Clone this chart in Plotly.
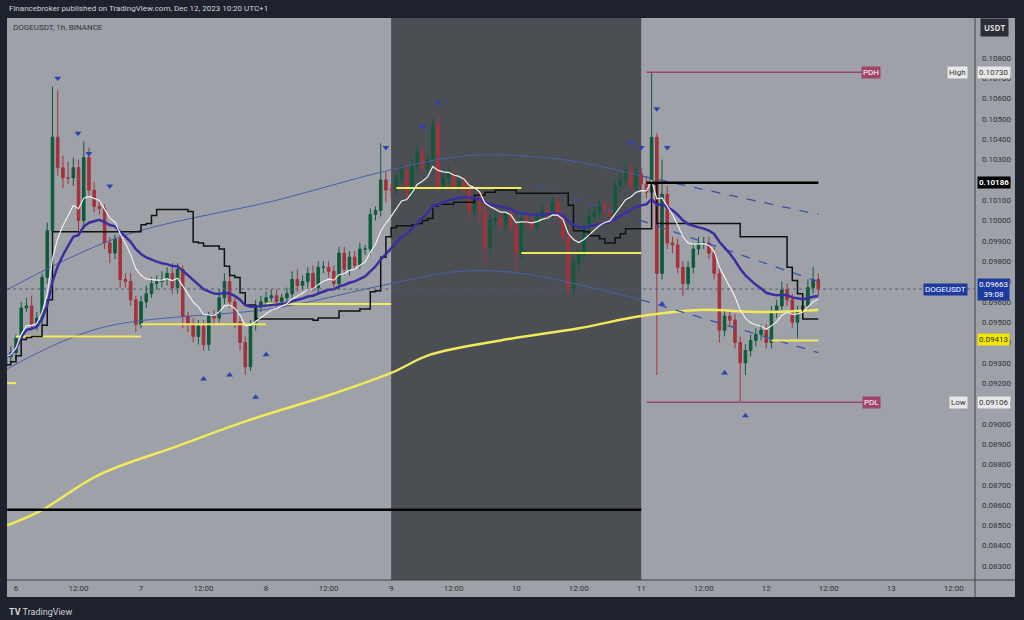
import plotly.graph_objects as go
import pandas as pd

# hourly closes of DOGEUSDT, left to right
closes = [
    0.0933, 0.0935, 0.0942, 0.0957, 0.0958, 0.0949, 0.0952, 0.0972, 0.0995, 0.1041,
    0.1026, 0.1021, 0.1021, 0.1026, 0.1000, 0.1031, 0.1015, 0.1007, 0.1006, 0.0989,
    0.0984, 0.0991, 0.0971, 0.0970, 0.0961, 0.0949, 0.0960, 0.0964, 0.0969, 0.0970,
    0.0971, 0.0974, 0.0967, 0.0976, 0.0953, 0.0949, 0.0943, 0.0948, 0.0939, 0.0953,
    0.0952, 0.0962, 0.0970, 0.0960, 0.0950, 0.0940, 0.0928, 0.0949, 0.0958, 0.0960,
    0.0962, 0.0963,
    0.0960, 0.0962, 0.0964, 0.0971, 0.0968, 0.0970, 0.0974, 0.0967, 0.0977, 0.0977,
    0.0975, 0.0969, 0.0984, 0.0976, 0.0982, 0.0978, 0.0986, 0.0986,
    0.1003, 0.1005, 0.1020, 0.1015, 0.1015, 0.1021, 0.1025, 0.1013, 0.1027, 0.1034,
    0.1026, 0.1030, 0.1047, 0.1017, 0.1021, 0.1023, 0.1017, 0.1019, 0.1015, 0.1005,
    0.1012, 0.1005, 0.0987, 0.1000, 0.1001, 0.0998, 0.1004, 0.0997, 0.0984, 0.1001,
    0.0999, 0.0997, 0.1002,
    0.1005, 0.1004, 0.1009, 0.1002, 0.0992, 0.0966, 0.0979, 0.0983, 0.0997, 0.1002,
    0.1004, 0.1007, 0.1005, 0.1003, 0.1017, 0.1020, 0.1025, 0.1017, 0.1023, 0.1018,
    0.1014, 0.1041, 0.0974, 0.1013, 0.0989, 0.0988, 0.0977, 0.0969, 0.0977, 0.0986,
    0.0989, 0.0989, 0.0984, 0.0974, 0.0946, 0.0953, 0.0951, 0.0940, 0.0930, 0.0936,
    0.0941, 0.0944, 0.0946, 0.0940, 0.0955, 0.0958, 0.0966, 0.0961, 0.0950, 0.0955,
    0.0958, 0.0967, 0.0971, 0.09663,
]
first_open = 0.0928
# wick lengths in units of 0.0001
upper_wicks = [
    2, 3, 2, 3, 4, 5, 3, 2, 4, 25, 23, 6, 8, 5, 4, 8, 5, 4, 3, 2,
    3, 2, 2, 3, 4, 2, 3, 4, 3, 3, 4, 3, 5, 3, 2, 2, 3, 3, 3, 2,
    3, 4, 4, 3, 2, 3, 3, 2, 3, 3, 3, 3,
    3, 2, 3, 4, 5, 3, 3, 4, 3, 3, 3, 3, 3, 3, 3, 3, 3, 2,
    3, 2, 18, 4, 3, 3, 3, 3, 3, 4, 3, 3, 3, 5, 3, 4, 3, 3, 3, 4,
    3, 3, 3, 3, 3, 3, 4, 3, 3, 3, 3, 3, 3,
    3, 3, 3, 3, 3, 3, 3, 3, 3, 3, 3, 3, 3, 3, 3, 4, 4, 3, 3, 3,
    4, 32, 2, 17, 4, 3, 3, 3, 3, 3, 3, 3, 3, 3, 3, 3, 3, 3, 3, 3,
    3, 3, 3, 3, 3, 3, 4, 3, 3, 3, 3, 4, 6, 3,
]
lower_wicks = [
    5, 3, 4, 3, 2, 3, 3, 4, 3, 2, 4, 5, 3, 4, 8, 4, 3, 3, 3, 3,
    5, 3, 4, 3, 3, 4, 2, 3, 2, 3, 3, 3, 3, 3, 6, 4, 3, 4, 3, 3,
    3, 2, 3, 3, 3, 4, 4, 2, 3, 3, 2, 2,
    3, 2, 3, 2, 3, 2, 3, 2, 3, 3, 3, 2, 3, 3, 3, 2, 2, 3,
    3, 3, 3, 6, 4, 3, 3, 3, 3, 3, 3, 3, 3, 3, 3, 3, 3, 3, 3, 4,
    3, 6, 9, 3, 3, 3, 3, 3, 9, 3, 3, 3, 3,
    3, 3, 3, 3, 3, 3, 3, 3, 3, 3, 3, 3, 3, 3, 3, 3, 3, 3, 3, 3,
    3, 3, 50, 3, 3, 4, 3, 6, 3, 3, 3, 3, 3, 3, 6, 3, 3, 3, 19, 6,
    3, 3, 3, 3, 3, 3, 3, 3, 3, 8, 3, 3, 3, 3,
]
last_hour = 154  # hours since Dec 6 00:00

# 200 EMA (yellow), read as (hour, price)
ema200_hours = [-1.7, 4.6, 16, 31, 45, 60, 72, 79.5, 93, 108, 120, 131, 143, 154]
ema200_vals = [0.0850, 0.0857, 0.0875, 0.0889, 0.0902, 0.0914, 0.0925, 0.0934, 0.0941, 0.0947, 0.0953, 0.0956, 0.0955, 0.0956]
# channel curves (thin blue)
upper_ch_hours = [-1.7, 20, 50, 72, 87, 105, 120, 154]
upper_ch_vals = [0.0966, 0.0992, 0.1010, 0.1025, 0.1032, 0.1030, 0.1022, 0.1003]
mid_ch_hours = [100, 120, 154]
mid_ch_vals = [0.1017, 0.1000, 0.0970]
lower_ch_hours = [-1.7, 16, 50, 72, 85, 97, 120, 154]
lower_ch_vals = [0.0927, 0.0947, 0.0957, 0.0969, 0.0975, 0.0974, 0.0961, 0.0935]
# support levels (yellow short lines): start hour, end hour, price
levels_start = [-1.7, 0, 24, 48, 73, 97, 145]
levels_end = [0, 24, 48, 72, 97, 120, 154]
levels_price = [0.0920, 0.0943, 0.0949, 0.0959, 0.1016, 0.0984, 0.0941]
# pivot markers
tops_hours = [8, 11.9, 14, 18, 71, 78, 81, 118, 120, 123, 125]
tops_vals = [0.1070, 0.1043, 0.1033, 0.1017, 0.1036, 0.1046, 0.1058, 0.1038, 0.1036, 0.1055, 0.1036]
bottoms_hours = [36, 41, 46, 48, 124, 136, 140]
bottoms_vals = [0.0922, 0.0924, 0.0913, 0.0934, 0.0959, 0.0925, 0.0904]

day_ticks = list(range(0, 181, 12))
day_labels = ["6", "12:00", "7", "12:00", "8", "12:00", "9", "12:00", "10", "12:00",
              "11", "12:00", "12", "12:00", "13", "12:00"]

n = len(closes)
hours = list(range(last_hour - n + 1, last_hour + 1))
opens = [first_open] + closes[:-1]
highs = [max(o, c) + w * 0.0001 for o, c, w in zip(opens, closes, upper_wicks)]
lows = [min(o, c) - w * 0.0001 for o, c, w in zip(opens, closes, lower_wicks)]

s = pd.Series(closes)
ema_fast = s.ewm(span=9).mean()
ema_slow = s.ewm(span=24).mean()
kijun = (pd.Series(highs).rolling(26, min_periods=1).max() + pd.Series(lows).rolling(26, min_periods=1).min()) / 2

bg = "#9ea1a8"
dark = "#1e222d"
fig = go.Figure()

fig.add_trace(go.Scatter(x=ema200_hours, y=ema200_vals, mode="lines", line=dict(color="#f2e85c", width=2.5, shape="spline")))
fig.add_trace(go.Scatter(x=upper_ch_hours[:-1], y=upper_ch_vals[:-1], mode="lines", line=dict(color="#4a5fa8", width=1, shape="spline")))
fig.add_trace(go.Scatter(x=upper_ch_hours[-2:], y=upper_ch_vals[-2:], mode="lines", line=dict(color="#3b52a8", width=1.3, dash="dash")))
fig.add_trace(go.Scatter(x=mid_ch_hours, y=mid_ch_vals, mode="lines", line=dict(color="#3b52a8", width=1.3, dash="dash")))
fig.add_trace(go.Scatter(x=lower_ch_hours[:-1], y=lower_ch_vals[:-1], mode="lines", line=dict(color="#4a5fa8", width=1, shape="spline")))
fig.add_trace(go.Scatter(x=lower_ch_hours[-2:], y=lower_ch_vals[-2:], mode="lines", line=dict(color="#3b52a8", width=1.3, dash="dash")))

for a, b, p in zip(levels_start, levels_end, levels_price):
    fig.add_trace(go.Scatter(x=[a, b], y=[p, p], mode="lines", line=dict(color="#f2e85c", width=2)))

fig.add_trace(go.Scatter(x=hours, y=kijun, mode="lines", line=dict(color="#111111", width=1.5, shape="hv")))
fig.add_trace(go.Scatter(x=hours, y=ema_slow, mode="lines", line=dict(color="#3a2f9e", width=2.5)))
fig.add_trace(go.Scatter(x=hours, y=ema_fast, mode="lines", line=dict(color="#eeeeee", width=1.2)))

fig.add_trace(go.Candlestick(
    x=hours, open=opens, high=highs, low=lows, close=closes,
    increasing=dict(line=dict(color="#0f5a3c", width=1), fillcolor="#0f5a3c"),
    decreasing=dict(line=dict(color="#a4323b", width=1), fillcolor="#a4323b"),
    whiskerwidth=0,
))

fig.add_trace(go.Scatter(x=tops_hours, y=tops_vals, mode="markers",
                         marker=dict(symbol="triangle-down", size=6, color="#2a44b0")))
fig.add_trace(go.Scatter(x=bottoms_hours, y=bottoms_vals, mode="markers",
                         marker=dict(symbol="triangle-up", size=6, color="#2a44b0")))

last_close = closes[-1]
shapes = [
    dict(type="rect", xref="x", yref="paper", x0=72, x1=120, y0=0, y1=1, fillcolor="#4b4e53", line_width=0, layer="below"),
    dict(type="rect", xref="paper", yref="paper", x0=0, x1=1.0413, y0=-0.0302, y1=0, fillcolor=bg, line_width=0, layer="below"),
    dict(type="rect", xref="paper", yref="paper", x0=1, x1=1.0413, y0=-0.0302, y1=1, fillcolor=bg, line_width=0, layer="below"),
    dict(type="line", xref="paper", yref="paper", x0=1, x1=1, y0=-0.0302, y1=1, line=dict(color="#444", width=1)),
    dict(type="line", xref="paper", yref="paper", x0=0, x1=1.0413, y0=0, y1=0, line=dict(color="#444", width=1)),
    dict(type="line", xref="x", yref="y", x0=-1.7, x1=120, y0=0.08577, y1=0.08577, line=dict(color="#000", width=2.5)),
    dict(type="line", xref="x", yref="y", x0=121, x1=154, y0=0.10186, y1=0.10186, line=dict(color="#000", width=2.5)),
    dict(type="line", xref="x", yref="y", x0=121, x1=165, y0=0.10730, y1=0.10730, line=dict(color="#a0446c", width=1.5)),
    dict(type="line", xref="x", yref="y", x0=121, x1=165, y0=0.09106, y1=0.09106, line=dict(color="#a0446c", width=1.5)),
    dict(type="line", xref="x", yref="y", x0=-1.7, x1=184, y0=last_close, y1=last_close, line=dict(color="#555a70", width=1, dash="dot")),
]

def box(y, text, fg, bgc, x=1.002, anchor="left"):
    return dict(xref="paper", yref="y", x=x, y=y, text=text, showarrow=False, xanchor=anchor,
                font=dict(size=8, color=fg, family="Roboto"), bgcolor=bgc, borderpad=1)

annotations = [
    box(0.10730, "PDH", "#fff", "#a0446c", x=0.893, anchor="center"),
    box(0.09106, "PDL", "#fff", "#a0446c", x=0.893, anchor="center"),
    box(0.10730, "High", "#333", "#e8e8e8", x=0.993, anchor="right"),
    box(0.10730, "0.10730", "#333", "#e8e8e8"),
    box(0.09106, "Low", "#333", "#e8e8e8", x=0.993, anchor="right"),
    box(0.09106, "0.09106", "#333", "#e8e8e8"),
    box(0.10186, "<b>0.10186</b>", "#fff", "#000"),
    box(0.09413, "0.09413", "#333", "#f2e600"),
    box(last_close, "0.09663<br>39:08", "#fff", "#1c3aa0"),
    box(last_close, "DOGEUSDT", "#fff", "#1c3aa0", x=0.993, anchor="right"),
    dict(xref="paper", yref="paper", x=1.005, y=1.0, yanchor="top", xanchor="left", text="<b>USDT</b>", showarrow=False,
         font=dict(size=8, color="#ddd"), bgcolor="#2a2e39", borderpad=3),
    dict(xref="paper", yref="paper", x=0.004, y=0.995, yanchor="top", xanchor="left", text="DOGEUSDT, 1h, BINANCE",
         showarrow=False, font=dict(size=8, color="#333", family="Roboto")),
    dict(xref="paper", yref="paper", x=0.0, y=1.005, yanchor="bottom", xanchor="left",
         text="Financebroker published on TradingView.com, Dec 12, 2023 10:20 UTC+1", showarrow=False,
         font=dict(size=8, color="#d1d4dc", family="Roboto")),
    dict(xref="paper", yref="paper", x=0.0, y=-0.045, yanchor="top", xanchor="left",
         text="<b>TV</b> TradingView", showarrow=False, font=dict(size=9, color="#d1d4dc", family="Roboto")),
]

fig.update_layout(
    width=1024, height=620,
    margin=dict(l=7, r=49, t=18, b=40, autoexpand=False),
    paper_bgcolor=dark, plot_bgcolor=bg,
    showlegend=False,
    shapes=shapes, annotations=annotations,
    xaxis=dict(range=[-1.73, 184.07], tickvals=day_ticks, ticktext=day_labels, showgrid=False,
               zeroline=False, rangeslider=dict(visible=False), ticks="", ticklabelstandoff=2,
               tickfont=dict(size=8, color="#333", family="Roboto"), fixedrange=True),
    yaxis=dict(range=[0.08231, 0.10997], side="right", tickvals=[0.083 + 0.001 * i for i in range(26)],
               tickformat=".5f", showgrid=False, zeroline=False, ticks="", ticklabelstandoff=6,
               tickfont=dict(size=8, color="#333", family="Roboto")),
)

fig.write_html("out.html", config={"displayModeBar": False})

# drop the browser's default page margin so the chart fills the window
with open("out.html") as f:
    page = f.read()
page = page.replace("<head>", "<head><style>body{margin:0;background:#1e222d}</style>", 1)
with open("out.html", "w") as f:
    f.write(page)
